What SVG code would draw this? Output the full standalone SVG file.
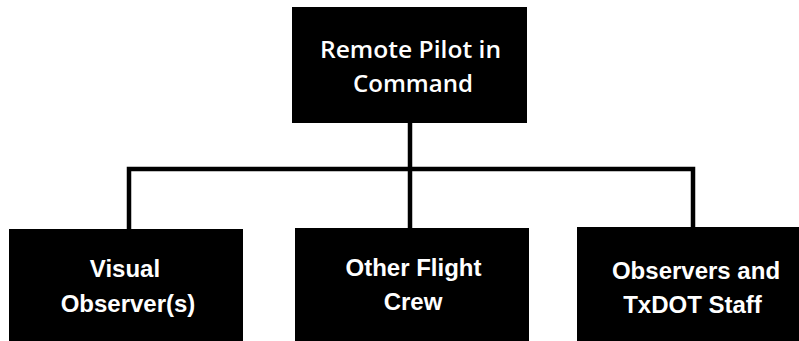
<svg xmlns="http://www.w3.org/2000/svg" width="799" height="341" viewBox="0 0 799 341">
<style>
.box{fill:#000}
.lbl{fill:#fff;font-family:"Liberation Sans",Arial,sans-serif;font-weight:bold;font-size:24px;text-anchor:middle}
.top{fill:#fff;font-family:"Open Sans","Liberation Sans",sans-serif;font-weight:600;font-size:23.5px;text-anchor:middle}
.conn{fill:none;stroke:#000;stroke-width:4.5}
</style>
<rect width="799" height="341" fill="#fff"/>
<g id="connectors">
<path class="conn" d="M410 123V228"/>
<path class="conn" d="M129 229V169H693V228"/>
</g>
<g id="rpic">
<rect class="box" x="292" y="7" width="235" height="116"/>
<text class="top" x="410.5" y="58" textLength="181" lengthAdjust="spacingAndGlyphs">Remote Pilot in</text>
<text class="top" x="413" y="91.5" textLength="120" lengthAdjust="spacingAndGlyphs">Command</text>
</g>
<g id="vo">
<rect class="box" x="9" y="229" width="234" height="115"/>
<text class="lbl" x="125" y="277">Visual</text>
<text class="lbl" x="128" y="312">Observer(s)</text>
</g>
<g id="ofc">
<rect class="box" x="295" y="228" width="234" height="116"/>
<text class="lbl" x="413.5" y="276">Other Flight</text>
<text class="lbl" x="413" y="310">Crew</text>
</g>
<g id="obs">
<rect class="box" x="577" y="227" width="225" height="117"/>
<text class="lbl" x="696" y="279">Observers and</text>
<text class="lbl" x="692.5" y="313">TxDOT Staff</text>
</g>
</svg>
